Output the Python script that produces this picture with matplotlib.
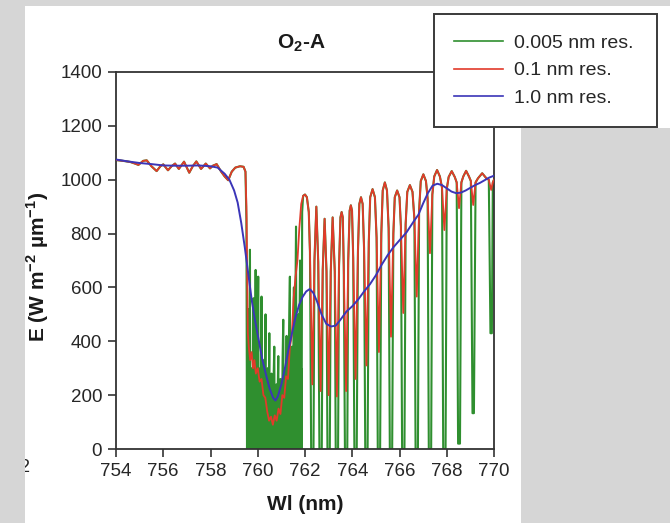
import matplotlib
matplotlib.use("Agg")
import matplotlib.pyplot as plt
from matplotlib.patches import Rectangle

plt.rcParams['font.family'] = ['Liberation Sans', 'DejaVu Sans']
plt.rcParams['mathtext.fontset'] = 'custom'
plt.rcParams['mathtext.rm'] = 'Liberation Sans'
plt.rcParams['mathtext.bf'] = 'Liberation Sans:bold'

# ---------------- data ----------------
# shared out-of-band continuum (754 - 759.5 nm), identical for 0.005 and 0.1 nm
cont_wl = [754.00, 754.30, 754.60, 754.80, 754.95, 755.15, 755.30, 755.50, 755.72, 755.88,
           756.00, 756.20, 756.35, 756.50, 756.66, 756.88, 757.10, 757.25, 757.40, 757.60,
           757.80, 757.98, 758.10, 758.26, 758.45, 758.60, 758.75, 758.90, 759.05, 759.25,
           759.40, 759.48]
cont_e = [1073, 1070, 1066, 1060, 1055, 1070, 1072, 1050, 1032, 1050,
          1057, 1035, 1050, 1060, 1040, 1067, 1026, 1050, 1068, 1040,
          1060, 1042, 1052, 1058, 1030, 1012, 998, 1030, 1045, 1050,
          1048, 1030]

# 0.005 nm resolution, R-branch (dense lines, 759.5 - 761.9 nm)
green_r_wl = [759.520, 759.545, 759.570, 759.590, 759.620, 759.640, 759.670, 759.690, 759.710, 759.730,
              759.755, 759.775, 759.800, 759.820, 759.840, 759.865, 759.885, 759.910, 759.930, 759.955,
              759.975, 760.000, 760.020, 760.040, 760.065, 760.085, 760.110, 760.130, 760.160, 760.180,
              760.205, 760.225, 760.250, 760.270, 760.300, 760.330, 760.350, 760.375, 760.395, 760.420,
              760.440, 760.465, 760.490, 760.510, 760.535, 760.555, 760.580, 760.600, 760.625, 760.645,
              760.670, 760.700, 760.720, 760.745, 760.765, 760.790, 760.810, 760.840, 760.870, 760.890,
              760.915, 760.935, 760.960, 760.980, 761.005, 761.025, 761.050, 761.080, 761.100, 761.125,
              761.145, 761.170, 761.190, 761.220, 761.240, 761.265, 761.285, 761.310, 761.360, 761.380,
              761.405, 761.425, 761.450, 761.470, 761.500, 761.530, 761.550, 761.575, 761.620, 761.640,
              761.665, 761.685, 761.710, 761.730, 761.760, 761.790, 761.810, 761.835, 761.855, 761.880,
              761.920, 762.000, 762.080, 762.160, 762.210]
green_r_e = [850, 0, 200, 0, 520, 0, 740, 0, 300, 0,
             220, 0, 350, 560, 0, 250, 0, 665, 0, 280,
             0, 450, 640, 0, 260, 0, 300, 0, 566, 0,
             220, 0, 330, 0, 250, 500, 0, 200, 0, 300,
             0, 180, 430, 0, 220, 0, 280, 0, 200, 0,
             260, 380, 0, 180, 0, 240, 0, 200, 345, 0,
             210, 0, 260, 0, 230, 0, 330, 480, 0, 250,
             0, 300, 0, 420, 0, 260, 0, 350, 640, 0,
             300, 0, 380, 0, 300, 600, 0, 350, 826, 0,
             400, 0, 500, 0, 380, 700, 0, 300, 0, 880,
             940, 945, 935, 880, 730]

# 0.005 nm resolution, P-branch doublets (762.3 - 770 nm)
green_p_wl = [762.26, 762.36, 762.40, 762.48, 762.56,
              762.61, 762.71, 762.75, 762.83, 762.91,
              762.95, 763.05, 763.09, 763.17, 763.26,
              763.30, 763.40, 763.44, 763.50, 763.55, 763.60, 763.64,
              763.69, 763.79, 763.83, 763.89, 763.94, 763.99, 764.04,
              764.09, 764.19, 764.24, 764.30, 764.37, 764.44, 764.50,
              764.55, 764.65, 764.70, 764.76, 764.86, 764.96, 765.03,
              765.08, 765.18, 765.23, 765.29, 765.38, 765.47, 765.54,
              765.59, 765.69, 765.74, 765.80, 765.90, 766.00, 766.06,
              766.11, 766.21, 766.26, 766.33, 766.44, 766.55, 766.63,
              766.68, 766.78, 766.83, 766.90, 767.01, 767.12, 767.19,
              767.24, 767.34, 767.39, 767.47, 767.59, 767.71, 767.80,
              767.85, 767.95, 768.00, 768.08, 768.21, 768.34, 768.42,
              768.48, 768.56, 768.62, 768.70, 768.82, 768.94, 769.02,
              769.09, 769.15, 769.22, 769.32, 769.50, 769.68, 769.78,
              769.85, 769.91, 769.95, 770.00]
green_p_e = [0, 0, 700, 900, 695,
             0, 0, 665, 855, 660,
             0, 0, 660, 860, 660,
             0, 0, 675, 860, 880, 860, 680,
             0, 0, 700, 885, 905, 885, 710,
             0, 0, 730, 910, 935, 910, 745,
             0, 0, 770, 935, 965, 935, 785,
             0, 0, 800, 960, 990, 960, 820,
             0, 0, 800, 935, 960, 935, 825,
             0, 0, 835, 955, 980, 955, 855,
             0, 0, 885, 995, 1020, 995, 930,
             0, 0, 945, 1012, 1036, 1012, 970,
             0, 0, 965, 1010, 1032, 1010, 990,
             20, 20, 990, 1012, 1033, 1012, 995,
             133, 133, 990, 1005, 1024, 1005, 1000,
             430, 430, 990, 1000]

# 0.1 nm resolution, inside the band
red_wl = [759.52, 759.55, 759.58, 759.62, 759.68, 759.74, 759.80, 759.86, 759.92, 760.00,
          760.08, 760.16, 760.24, 760.32, 760.40, 760.48, 760.56, 760.64, 760.72, 760.80,
          760.88, 760.96, 761.04, 761.12, 761.20, 761.28, 761.36, 761.44, 761.52, 761.60,
          761.68, 761.76, 761.84, 761.92, 762.00, 762.08, 762.16, 762.21,
          762.31, 762.40, 762.48, 762.56,
          762.66, 762.75, 762.83, 762.91,
          763.00, 763.09, 763.17, 763.26,
          763.35, 763.44, 763.50, 763.55, 763.60, 763.64,
          763.74, 763.83, 763.89, 763.94, 763.99, 764.04,
          764.14, 764.24, 764.30, 764.37, 764.44, 764.50,
          764.60, 764.70, 764.76, 764.86, 764.96, 765.03,
          765.13, 765.23, 765.29, 765.38, 765.47, 765.54,
          765.64, 765.74, 765.80, 765.90, 766.00, 766.06,
          766.16, 766.26, 766.33, 766.44, 766.55, 766.63,
          766.73, 766.83, 766.90, 767.01, 767.12, 767.19,
          767.29, 767.39, 767.47, 767.59, 767.71, 767.80,
          767.90, 768.00, 768.08, 768.21, 768.34, 768.42,
          768.52, 768.62, 768.70, 768.82, 768.94, 769.02,
          769.12, 769.22, 769.32, 769.50, 769.68, 769.78,
          769.88, 769.95, 770.00]
red_e = [900, 650, 430, 380, 330, 360, 300, 330, 280, 300,
         250, 260, 200, 190, 140, 105, 120, 90, 125, 105,
         150, 130, 200, 190, 270, 260, 380, 420, 560, 640,
         700, 820, 910, 940, 945, 935, 880, 730,
         240, 700, 900, 695,
         215, 665, 855, 660,
         200, 660, 860, 660,
         195, 675, 860, 880, 860, 680,
         215, 700, 885, 905, 885, 710,
         260, 730, 910, 935, 910, 745,
         310, 770, 935, 965, 935, 785,
         360, 800, 960, 990, 960, 820,
         417, 800, 935, 960, 935, 825,
         505, 835, 955, 980, 955, 855,
         566, 885, 995, 1020, 995, 930,
         727, 945, 1012, 1036, 1012, 970,
         813, 965, 1010, 1032, 1010, 990,
         894, 990, 1012, 1033, 1012, 995,
         906, 990, 1005, 1024, 1005, 1000,
         962, 990, 1000]

# 1.0 nm resolution
blue_wl = [754.00, 754.50, 755.00, 755.50, 756.00, 756.50, 757.00, 757.50, 758.00, 758.30,
           758.60, 758.80, 759.00, 759.15, 759.30, 759.45, 759.60, 759.75, 759.90, 760.05,
           760.20, 760.35, 760.50, 760.65, 760.75, 760.85, 761.00, 761.15, 761.30, 761.45,
           761.60, 761.75, 761.90, 762.05, 762.20, 762.35, 762.50, 762.70, 762.90, 763.10,
           763.30, 763.50, 763.75, 764.00, 764.25, 764.50, 764.75, 765.00, 765.25, 765.50,
           765.75, 766.00, 766.30, 766.60, 766.80, 767.00, 767.20, 767.40, 767.60, 767.80,
           768.00, 768.20, 768.40, 768.60, 768.80, 769.00, 769.20, 769.40, 769.60, 769.80,
           770.00]
blue_e = [1075, 1068, 1062, 1058, 1053, 1052, 1052, 1053, 1050, 1045,
          1022, 1000, 960, 915, 840, 750, 650, 550, 470, 400,
          330, 275, 225, 190, 180, 195, 240, 300, 370, 430,
          490, 535, 565, 585, 594, 580, 550, 500, 465, 455,
          458, 480, 510, 530, 555, 585, 612, 645, 685, 720,
          750, 775, 805, 845, 870, 912, 950, 978, 985, 980,
          968, 956, 950, 952, 960, 970, 980, 988, 998, 1008,
          1015]

series_labels = ['0.005 nm res.', '0.1 nm res.', '1.0 nm res.']
x_ticks = [754, 756, 758, 760, 762, 764, 766, 768, 770]
y_ticks = [0, 200, 400, 600, 800, 1000, 1200, 1400]

# ---------------- figure ----------------
W, H = 670, 523
BG = '#d6d6d6'
fig = plt.figure(figsize=(W / 100, H / 100), dpi=100, facecolor=BG)


def fx(px):
    return px / W


def fy(py):
    return (H - py) / H


# white page panel and white area behind the legend
fig.patches.append(Rectangle((fx(25), 0), fx(521) - fx(25), fy(6), transform=fig.transFigure,
                             facecolor='white', edgecolor='none', zorder=-10))
fig.patches.append(Rectangle((fx(521), fy(128)), fx(670) - fx(521), fy(6) - fy(128),
                             transform=fig.transFigure, facecolor='white', edgecolor='none',
                             zorder=-10))

ax = fig.add_axes([fx(116), fy(449), fx(494) - fx(116), fy(72) - fy(449)])
ax.set_facecolor('white')

green_x = cont_wl + green_r_wl + green_p_wl
green_y = cont_e + green_r_e + green_p_e
red_x = cont_wl + red_wl
red_y = cont_e + red_e

l1, = ax.plot(green_x, green_y, color='#2f8f2f', lw=1.5, label=series_labels[0], zorder=2)
l2, = ax.plot(red_x, red_y, color='#e23a2a', lw=1.3, label=series_labels[1], zorder=3)
l3, = ax.plot(blue_wl, blue_e, color='#3b35b8', lw=1.4, label=series_labels[2], zorder=4)

ax.set_xlim(754, 770)
ax.set_ylim(0, 1400)
ax.set_xticks(x_ticks)
ax.set_yticks(y_ticks)
ax.tick_params(direction='out', length=6, width=1.2, color='#333333',
               labelsize=13.5, labelcolor='#262626', pad=4)
for s in ax.spines.values():
    s.set_linewidth(1.3)
    s.set_color('#333333')

ax.set_xlabel('Wl (nm)', fontsize=15, fontweight='bold', color='#1a1a1a')
ax.xaxis.set_label_coords(0.5, -0.122)
ax.set_ylabel(r'E (W m$^{\mathbf{-2}}$ µm$^{\mathbf{-1}}$)', fontsize=15,
              fontweight='bold', color='#1a1a1a')
ax.yaxis.set_label_coords(-0.172, 0.483)

fig.text(fx(301), fy(43), r'O$_\mathbf{2}$-A', fontsize=15, fontweight='bold',
         ha='center', va='center', color='#1a1a1a')

leg = fig.legend(handles=[l1, l2, l3], loc='upper left',
                 bbox_to_anchor=(fx(434), fy(125), fx(657) - fx(434), fy(14) - fy(125)),
                 mode='expand', borderaxespad=0, fontsize=14, frameon=True,
                 fancybox=False, borderpad=1.05, labelspacing=0.5,
                 handlelength=2.5, handletextpad=0.55)
leg.get_frame().set_edgecolor('#3a3a3a')
leg.get_frame().set_linewidth(1.4)
leg.get_frame().set_facecolor('white')
leg.get_frame().set_alpha(1)
for t in leg.get_texts():
    t.set_color('#262626')
for h in leg.legend_handles:
    h.set_linewidth(1.2)

# fragment of a neighbouring panel label at the left edge, partly hidden by the page border
fig.text(fx(29), fy(467), '2', fontsize=13, ha='right', va='center', color='#262626',
         zorder=1)
fig.patches.append(Rectangle((0, fy(482)), fx(25), fy(452) - fy(482), transform=fig.transFigure,
                             facecolor=BG, edgecolor='none', zorder=3))

fig.savefig('out.png', dpi=100, facecolor=fig.get_facecolor())
